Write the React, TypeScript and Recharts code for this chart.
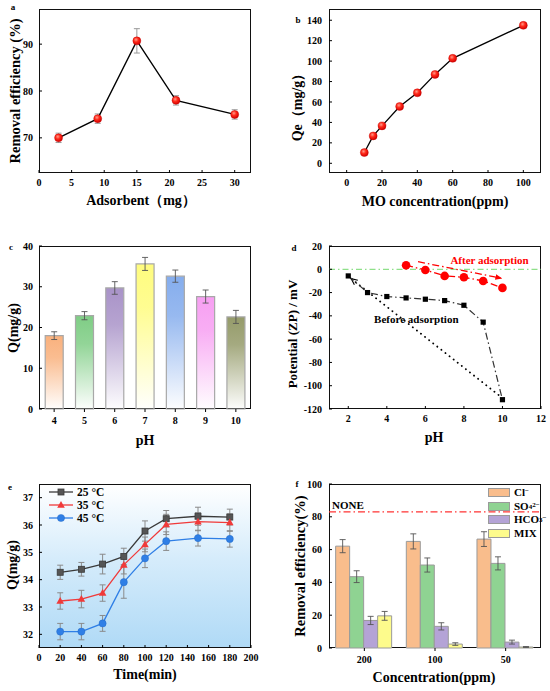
import React from "react";
import {
  LineChart,
  Line,
  BarChart,
  Bar,
  Cell,
  XAxis,
  YAxis,
  ErrorBar,
  ReferenceLine,
  ReferenceDot,
} from "recharts";

const FONT = '"Liberation Serif", "Times New Roman", serif';

// (a) removal efficiency vs adsorbent dose
const adsorbentMg = [3, 9, 15, 21, 30];
const removalA = [70, 74.1, 90.7, 78, 75];
const removalAErr = [1, 1, 2.6, 1, 1];
const ticksA_X = [0, 5, 10, 15, 20, 25, 30];
const ticksA_Y = [70, 80, 90];

// (b) Qe vs MO concentration
const moPpm = [10, 15, 20, 30, 40, 50, 60, 100];
const qeB = [10.5, 26.8, 36.6, 55.6, 69, 87, 102.7, 135];
const ticksB_X = [0, 20, 40, 60, 80, 100];
const ticksB_Y = [0, 20, 40, 60, 80, 100, 120, 140];

// (c) Q vs pH
const phC = ["4", "5", "6", "7", "8", "9", "10"];
const qC = [18, 22.9, 29.7, 35.6, 32.6, 27.6, 22.6];
const qCErr = [0.95, 1, 1.55, 1.6, 1.5, 1.6, 1.6];
const barColorsC = ["#f9b17d", "#7fcd85", "#a993c8", "#fffc7e", "#85aded", "#f79ff2", "#959b6a"];
const ticksC_Y = [0, 10, 20, 30, 40];

// (d) zeta potential
const phBefore = [2, 3, 4, 5, 6, 7, 8, 9, 10];
const zpBefore = [-5.7, -20, -23.4, -24.6, -25.7, -26.9, -30.9, -45.4, -112];
const phAfter = [5, 6, 7, 8, 9, 10];
const zpAfter = [3.4, -0.6, -5.7, -6.9, -10, -16];
const ticksD_X = [2, 4, 6, 8, 10, 12];
const ticksD_Y = [-120, -100, -80, -60, -40, -20, 0, 20];

// (e) kinetics at three temperatures
const timeMin = [20, 40, 60, 80, 100, 120, 150, 180];
const q25 = [34.27, 34.38, 34.57, 34.85, 35.78, 36.23, 36.32, 36.29];
const q25Err = [0.26, 0.25, 0.36, 0.3, 0.37, 0.3, 0.33, 0.29];
const q35 = [33.22, 33.29, 33.51, 34.54, 35.29, 36.02, 36.12, 36.09];
const q35Err = [0.3, 0.32, 0.3, 0.33, 0.27, 0.37, 0.33, 0.32];
const q45 = [32.1, 32.1, 32.4, 33.91, 34.78, 35.41, 35.52, 35.49];
const q45Err = [0.3, 0.3, 0.29, 0.59, 0.34, 0.34, 0.29, 0.3];
const ticksE_X = [0, 20, 40, 60, 80, 100, 120, 140, 160, 180, 200];
const ticksE_Y = [32, 33, 34, 35, 36, 37];

// (f) coexisting anions
const concCats = ["200", "100", "50"];
const clEff = [62.1, 65, 66.4];
const clErr = [4, 4.6, 4.5];
const so4Eff = [43.5, 50.6, 51.6];
const so4Err = [3.6, 4.3, 4];
const hco3Eff = [16.8, 13.2, 3.6];
const hco3Err = [2.5, 2.2, 1.2];
const mixEff = [19.6, 2.4, 0.6];
const mixErr = [2.7, 0.8, 0.3];
const noneEff = 83;
const ticksF_Y = [0, 20, 40, 60, 80, 100];

const aData = adsorbentMg.map((x, i) => ({ x, y: removalA[i], err: removalAErr[i] }));
const bData = moPpm.map((x, i) => ({ x, y: qeB[i] }));
const cData = phC.map((ph, i) => ({ ph, q: qC[i], err: qCErr[i] }));
const dBefore = phBefore.map((x, i) => ({ x, y: zpBefore[i] }));
const dAfter = phAfter.map((x, i) => ({ x, y: zpAfter[i] }));
const eData = timeMin.map((t, i) => ({
  t,
  q25: q25[i],
  e25: q25Err[i],
  q35: q35[i],
  e35: q35Err[i],
  q45: q45[i],
  e45: q45Err[i],
}));
const fData = concCats.map((c, i) => ({
  c,
  cl: clEff[i],
  clE: clErr[i],
  so4: so4Eff[i],
  so4E: so4Err[i],
  hco3: hco3Eff[i],
  hco3E: hco3Err[i],
  mix: mixEff[i],
  mixE: mixErr[i],
}));

const eSeries = [
  { key: "q25", err: "e25", name: "25 °C", color: "#3a3a3a", marker: "square" },
  { key: "q35", err: "e35", name: "35 °C", color: "#f03a3a", marker: "triangle" },
  { key: "q45", err: "e45", name: "45 °C", color: "#2f7fe6", marker: "circle" },
];

const sup = { fontSize: 7, verticalAlign: "top", lineHeight: 1, position: "relative" as const, top: -1 };
const sub = { fontSize: 7, verticalAlign: "bottom", lineHeight: 1, position: "relative" as const, top: 1 };

const fSeries = [
  { key: "cl", err: "clE", color: "#f9bd8c", label: <>Cl<span style={sup}>−</span></> },
  { key: "so4", err: "so4E", color: "#8fd392", label: <>SO<span style={sub}>4</span><span style={sup}>2−</span></> },
  { key: "hco3", err: "hco3E", color: "#b4a3d6", label: <>HCO<span style={sub}>3</span><span style={sup}>−</span></> },
  { key: "mix", err: "mixE", color: "#fdfb8c", label: <>MIX</> },
];

const tick = { fontFamily: FONT, fontSize: 10, fontWeight: 700, fill: "#000" };

type Geo = {
  left: number;
  top: number;
  width: number;
  height: number;
  padTop: number;
  padRight: number;
  yw: number;
  xh: number;
};

const geoA: Geo = { left: 0, top: 0, width: 275, height: 230, padTop: 9, padRight: 24, yw: 39, xh: 57 };
const geoB: Geo = { left: 275, top: 0, width: 275, height: 230, padTop: 9, padRight: 9, yw: 54, xh: 57 };
const geoC: Geo = { left: 0, top: 225, width: 275, height: 230, padTop: 21, padRight: 24, yw: 39, xh: 46 };
const geoD: Geo = { left: 275, top: 225, width: 275, height: 230, padTop: 21, padRight: 9, yw: 54, xh: 46 };
const geoE: Geo = { left: 0, top: 455, width: 275, height: 236, padTop: 29, padRight: 24, yw: 39, xh: 43 };
const geoF: Geo = { left: 275, top: 455, width: 275, height: 236, padTop: 29, padRight: 9, yw: 54, xh: 43 };

const margin = (g: Geo) => ({ top: g.padTop, right: g.padRight, bottom: 0, left: 0 });

function Panel({ g, bg, children }: { g: Geo; bg?: string; children: React.ReactNode }) {
  return (
    <>
      <div
        style={{
          position: "absolute",
          left: g.left + g.yw,
          top: g.top + g.padTop,
          width: g.width - g.yw - g.padRight,
          height: g.height - g.padTop - g.xh,
          border: "1.3px solid #111",
          boxSizing: "border-box",
          background: bg,
        }}
      />
      <div style={{ position: "absolute", left: g.left, top: g.top }}>{children}</div>
    </>
  );
}

function Title({ x, y, size = 14, rotate, children }: { x: number; y: number; size?: number; rotate?: boolean; children: React.ReactNode }) {
  return (
    <div
      style={{
        position: "absolute",
        left: x,
        top: y,
        transform: `translate(-50%, -50%)${rotate ? " rotate(-90deg)" : ""}`,
        fontFamily: FONT,
        fontWeight: 700,
        fontSize: size,
        whiteSpace: "nowrap",
        lineHeight: 1,
      }}
    >
      {children}
    </div>
  );
}

const ballDefs = (
  <defs>
    <radialGradient id="ball" cx="40%" cy="35%" r="65%">
      <stop offset="0%" stopColor="#ff9a8a" />
      <stop offset="45%" stopColor="#ff2a1a" />
      <stop offset="100%" stopColor="#d40000" />
    </radialGradient>
  </defs>
);

const redBall = (p: any) => <circle key={p.index} cx={p.cx} cy={p.cy} r={4} fill="url(#ball)" stroke="#c00000" strokeWidth={0.4} />;

function marker(kind: string, color: string, cx: number, cy: number, key?: number) {
  if (kind === "square") return <rect key={key} x={cx - 3} y={cy - 3} width={6} height={6} fill="#555" stroke={color} strokeWidth={0.8} />;
  if (kind === "triangle")
    return <polygon key={key} points={`${cx},${cy - 4} ${cx + 3.8},${cy + 2.8} ${cx - 3.8},${cy + 2.8}`} fill={color} />;
  return <circle key={key} cx={cx} cy={cy} r={3.6} fill={color} stroke="#1e64c0" strokeWidth={0.4} />;
}

function ChartA() {
  return (
    <LineChart width={geoA.width} height={geoA.height} data={aData} margin={margin(geoA)}>
      {ballDefs}
      <XAxis type="number" dataKey="x" domain={[0, 32.5]} ticks={ticksA_X} height={geoA.xh} axisLine={false} tick={tick} tickSize={-3} tickLine={{ stroke: "#000" }} tickMargin={9} />
      <YAxis type="number" domain={[62.5, 97.5]} ticks={ticksA_Y} width={geoA.yw} axisLine={false} tick={tick} tickSize={-3} tickLine={{ stroke: "#000" }} tickMargin={9} />
      <Line dataKey="y" stroke="#000" strokeWidth={1.3} dot={redBall} isAnimationActive={false}>
        <ErrorBar dataKey="err" width={3} stroke="#999" strokeWidth={1} direction="y" />
      </Line>
    </LineChart>
  );
}

function ChartB() {
  return (
    <LineChart width={geoB.width} height={geoB.height} data={bData} margin={margin(geoB)}>
      {ballDefs}
      <XAxis type="number" dataKey="x" domain={[-10, 110]} ticks={ticksB_X} height={geoB.xh} axisLine={false} tick={tick} tickSize={-3} tickLine={{ stroke: "#000" }} tickMargin={9} />
      <YAxis type="number" domain={[-9.5, 151]} ticks={ticksB_Y} width={geoB.yw} axisLine={false} tick={tick} tickSize={-3} tickLine={{ stroke: "#000" }} tickMargin={10} />
      <Line dataKey="y" stroke="#000" strokeWidth={1.3} dot={redBall} isAnimationActive={false} />
    </LineChart>
  );
}

function ChartC() {
  return (
    <BarChart width={geoC.width} height={geoC.height} data={cData} margin={margin(geoC)} barCategoryGap="20.5%">
      <defs>
        {barColorsC.map((c, i) => (
          <linearGradient key={i} id={`cg${i}`} x1="0" y1="0" x2="0" y2="1">
            <stop offset="0%" stopColor={c} stopOpacity={1} />
            <stop offset="30%" stopColor={c} stopOpacity={0.85} />
            <stop offset="100%" stopColor={c} stopOpacity={0.02} />
          </linearGradient>
        ))}
      </defs>
      <XAxis dataKey="ph" height={geoC.xh} axisLine={false} tick={tick} tickSize={3} tickLine={{ stroke: "#000" }} tickMargin={5} />
      <YAxis type="number" domain={[0, 40]} ticks={ticksC_Y} width={geoC.yw} axisLine={false} tick={tick} tickSize={-3} tickLine={{ stroke: "#000" }} tickMargin={9} />
      <Bar dataKey="q" stroke="#a8a8a8" strokeWidth={1.2} isAnimationActive={false}>
        {cData.map((_, i) => (
          <Cell key={i} fill={`url(#cg${i})`} />
        ))}
        <ErrorBar dataKey="err" width={3} stroke="#555" strokeWidth={0.9} direction="y" />
      </Bar>
    </BarChart>
  );
}

function ChartD() {
  return (
    <LineChart width={geoD.width} height={geoD.height} margin={margin(geoD)}>
      <defs>
        <marker id="arrowK" viewBox="0 0 10 10" refX="9" refY="5" markerWidth="7" markerHeight="7" markerUnits="userSpaceOnUse" orient="auto">
          <path d="M0,1 L9,5 L0,9" fill="none" stroke="#000" strokeWidth={1.6} />
        </marker>
        <marker id="arrowR" viewBox="0 0 10 10" refX="9" refY="5" markerWidth="7" markerHeight="7" markerUnits="userSpaceOnUse" orient="auto">
          <path d="M0,1 L10,5 L0,9 Z" fill="#f00" />
        </marker>
      </defs>
      <XAxis type="number" dataKey="x" domain={[1, 12]} ticks={ticksD_X} height={geoD.xh} axisLine={false} tick={tick} tickSize={-3} tickLine={{ stroke: "#000" }} tickMargin={9} allowDuplicatedCategory={false} />
      <YAxis type="number" domain={[-120, 20]} ticks={ticksD_Y} width={geoD.yw} axisLine={false} tick={tick} tickSize={-3} tickLine={{ stroke: "#000" }} tickMargin={10} />
      <ReferenceLine y={0} stroke="#8fe08a" strokeWidth={1.2} strokeDasharray="6 3 1.5 3" />
      <ReferenceLine
        segment={[{ x: 9.8, y: -108 }, { x: 2.15, y: -8 }]}
        stroke="#000"
        strokeWidth={1.8}
        strokeLinecap="round"
        strokeDasharray="0.2 5"
        markerEnd="url(#arrowK)"
      />
      <ReferenceLine
        segment={[{ x: 5.62, y: 6.5 }, { x: 9.96, y: -7.7 }]}
        stroke="#f00"
        strokeWidth={1.3}
        strokeDasharray="7 3 1.5 3"
        markerEnd="url(#arrowR)"
      />
      <Line
        data={dBefore}
        dataKey="y"
        stroke="#333"
        strokeWidth={1.2}
        strokeDasharray="7 3 1.5 3"
        dot={(p: any) => <rect key={p.index} x={p.cx - 2.6} y={p.cy - 2.6} width={5.2} height={5.2} fill="#000" />}
        isAnimationActive={false}
      />
      <Line
        data={dAfter}
        dataKey="y"
        stroke="#f00"
        strokeWidth={1.3}
        strokeDasharray="7 3 1.5 3"
        dot={(p: any) => <circle key={p.index} cx={p.cx} cy={p.cy} r={4.3} fill="#f00" />}
        isAnimationActive={false}
      />
      <ReferenceDot
        x={9.33}
        y={7.6}
        r={0}
        fill="none"
        stroke="none"
        label={{ value: "After adsorption", position: "center", fill: "#f00", fontSize: 11, fontWeight: 700, fontFamily: FONT }}
      />
      <ReferenceDot
        x={5.53}
        y={-42.9}
        r={0}
        fill="none"
        stroke="none"
        label={{ value: "Before adsorption", position: "center", fill: "#000", fontSize: 11, fontWeight: 700, fontFamily: FONT }}
      />
    </LineChart>
  );
}

function ChartE() {
  return (
    <LineChart width={geoE.width} height={geoE.height} data={eData} margin={margin(geoE)}>
      <XAxis type="number" dataKey="t" domain={[0, 200]} ticks={ticksE_X} height={geoE.xh} axisLine={false} tick={tick} tickSize={-3} tickLine={{ stroke: "#000" }} tickMargin={9} interval={0} />
      <YAxis type="number" domain={[31.5, 37.5]} ticks={ticksE_Y} width={geoE.yw} axisLine={false} tick={tick} tickSize={-3} tickLine={{ stroke: "#000" }} tickMargin={9} />
      {eSeries.map((s) => (
        <Line
          key={s.key}
          dataKey={s.key}
          stroke={s.color}
          strokeWidth={1.3}
          dot={(p: any) => marker(s.marker, s.color, p.cx, p.cy, p.index)}
          isAnimationActive={false}
        >
          <ErrorBar dataKey={s.err} width={3} stroke="#8a8a8a" strokeWidth={1} direction="y" />
        </Line>
      ))}
    </LineChart>
  );
}

function ChartF() {
  return (
    <BarChart width={geoF.width} height={geoF.height} data={fData} margin={margin(geoF)} barCategoryGap="9.4%" barGap={0}>
      <XAxis dataKey="c" height={geoF.xh} axisLine={false} tick={tick} tickSize={3} tickLine={{ stroke: "#000" }} tickMargin={5} />
      <YAxis type="number" domain={[0, 100]} ticks={ticksF_Y} width={geoF.yw} axisLine={false} tick={tick} tickSize={-3} tickLine={{ stroke: "#000" }} tickMargin={10} />
      <ReferenceLine
        y={noneEff}
        stroke="#f33"
        strokeWidth={1.1}
        strokeDasharray="7 3 1.5 3"
        label={{ value: "NONE", position: "insideBottomLeft", offset: 3, fill: "#000", fontSize: 11, fontWeight: 700, fontFamily: FONT }}
      />
      {fSeries.map((s) => (
        <Bar key={s.key} dataKey={s.key} fill={s.color} stroke="#9a9a9a" strokeWidth={1} isAnimationActive={false}>
          <ErrorBar dataKey={s.err} width={3} stroke="#555" strokeWidth={0.9} direction="y" />
        </Bar>
      ))}
    </BarChart>
  );
}

function LegendE() {
  return (
    <div style={{ position: "absolute", left: 49, top: 485 }}>
      {eSeries.map((s) => (
        <div key={s.key} style={{ display: "flex", alignItems: "center", height: 13.3, fontFamily: FONT, fontWeight: 700, fontSize: 11.5 }}>
          <svg width={26} height={10} style={{ marginRight: 2 }}>
            <line x1={0} y1={5} x2={24} y2={5} stroke={s.color} strokeWidth={1.3} />
            {marker(s.marker, s.color, 12, 5)}
          </svg>
          {s.name}
        </div>
      ))}
    </div>
  );
}

function LegendF() {
  return (
    <div style={{ position: "absolute", left: 488, top: 486 }}>
      {fSeries.map((s) => (
        <div key={s.key} style={{ display: "flex", alignItems: "center", height: 13.6, fontFamily: FONT, fontWeight: 700, fontSize: 11, lineHeight: 1 }}>
          <div style={{ width: 22, height: 9, background: s.color, border: "1px solid #9a9a9a", boxSizing: "border-box", marginRight: 4, flex: "none" }} />
          <span style={{ display: "inline-flex", alignItems: "center", whiteSpace: "nowrap" }}>{s.label}</span>
        </div>
      ))}
    </div>
  );
}

export default function App() {
  return (
    <div style={{ position: "absolute", left: 0, top: 0, width: 550, height: 691, background: "#fff", overflow: "hidden" }}>
      <Panel g={geoA}>
        <ChartA />
      </Panel>
      <Panel g={geoB}>
        <ChartB />
      </Panel>
      <Panel g={geoC}>
        <ChartC />
      </Panel>
      <Panel g={geoD}>
        <ChartD />
      </Panel>
      <Panel g={geoE} bg="linear-gradient(to bottom, #ffffff 0%, #d6ecfb 45%, #b0daf6 100%)">
        <ChartE />
      </Panel>
      <Panel g={geoF}>
        <ChartF />
      </Panel>
      <LegendE />
      <LegendF />

      <Title x={13} y={7} size={9}>a</Title>
      <Title x={298} y={20} size={9}>b</Title>
      <Title x={11} y={247} size={9}>c</Title>
      <Title x={294} y={248} size={9}>d</Title>
      <Title x={10} y={487} size={9}>e</Title>
      <Title x={297} y={484} size={9}>f</Title>

      <Title x={15} y={91} size={14.5} rotate>Removal efficiency (%)</Title>
      <Title x={141} y={201}>Adsorbent（mg）</Title>
      <Title x={298} y={104} rotate>Qe（mg/g）</Title>
      <Title x={435} y={202}>MO concentration(ppm)</Title>
      <Title x={14} y={328} rotate>Q(mg/g)</Title>
      <Title x={145} y={441}>pH</Title>
      <Title x={292} y={334} size={13} rotate>Potential (ZP) / mV</Title>
      <Title x={434} y={438}>pH</Title>
      <Title x={13} y={565} rotate>Q(mg/g)</Title>
      <Title x={145} y={675}>Time(min)</Title>
      <Title x={300} y={566} size={14.5} rotate>Removal efficiency(%)</Title>
      <Title x={434} y={678}>Concentration(ppm)</Title>
    </div>
  );
}
